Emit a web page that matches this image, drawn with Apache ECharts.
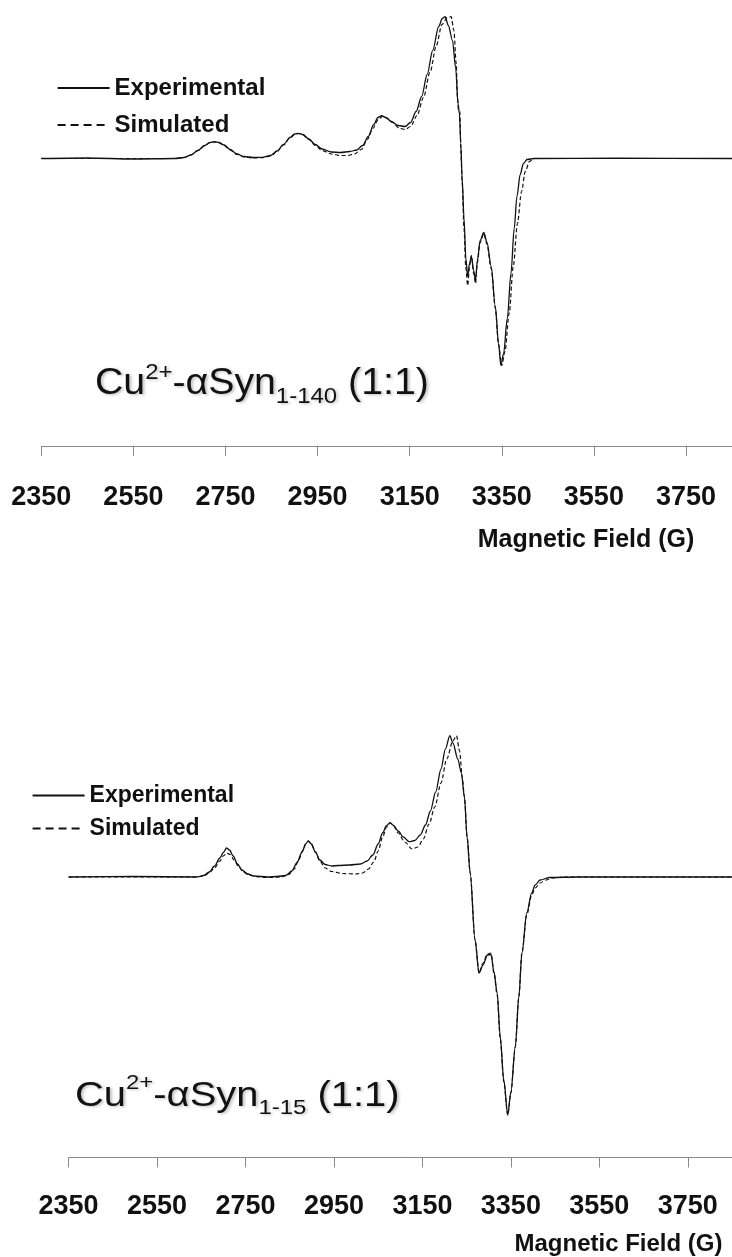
<!DOCTYPE html>
<html>
<head>
<meta charset="utf-8">
<script src="https://cdn.jsdelivr.net/npm/echarts@6/dist/echarts.min.js"></script>
<style>
html,body{margin:0;padding:0;background:#fff;}
#c{width:732px;height:1257px;}
</style>
</head>
<body>
<div id="c"></div>
<script>
// ---------- data (field in G, signal in arbitrary units) ----------
const fieldTicks = [2350, 2550, 2750, 2950, 3150, 3350, 3550, 3750];
const fieldMax = 3850;
const seriesNames = ['Experimental', 'Simulated'];
const axisTitle = 'Magnetic Field (G)';

const topExperimental = [
  [2350,0],[2450,0.5],[2550,-0.5],[2640,0],[2660,1],[2675,3.5],[2690,8],[2705,13],[2716,16],[2726,16.8],
  [2736,16],[2747,13.5],[2760,9],[2775,4.5],[2790,2],[2810,1],[2830,1.2],[2848,3],[2862,7.5],[2876,14],
  [2890,21],[2900,24.5],[2909,25.2],[2918,24],[2931,19.5],[2945,14],[2960,9.5],[2980,6.5],[3000,6],
  [3020,7],[3035,8.5],[3048,13],[3060,22],[3072,34],[3081,41],[3089,42.8],[3098,41],[3110,37],[3125,33],
  [3140,32],[3152,36],[3164,47],[3176,62],[3188,84],[3200,108],[3213,132],[3221,140],[3227,141.8],
  [3234,133],[3243,118],[3250,90],[3255,55],[3258,45],[3261,15],[3264,-20],[3268,-60],[3272,-100],
  [3276,-118],[3280,-105],[3284,-98],[3289,-112],[3293,-122],[3297,-102],[3303,-82],[3311,-74],
  [3318,-84],[3327,-108],[3336,-148],[3343,-185],[3348,-207],[3354,-195],[3362,-160],[3370,-115],
  [3377,-70],[3383,-38],[3390,-16],[3397,-5],[3405,-1],[3420,0],[3600,0.3],[3850,0]
];
const topSimulated = [
  [2350,0],[2640,0],[2660,1],[2675,3.5],[2690,8],[2705,13],[2716,15.8],[2726,16.5],[2736,15.6],
  [2747,13],[2760,8.5],[2775,4],[2790,1.5],[2810,0.5],[2830,0.8],[2848,2.5],[2862,7],[2876,13.5],
  [2890,20.5],[2900,24],[2909,25],[2918,23.5],[2931,19],[2945,13],[2960,8],[2980,4.5],[3000,3],
  [3015,3],[3030,4.5],[3045,9],[3058,19],[3070,30],[3082,39],[3092,42.5],[3102,40],[3113,36],
  [3127,30.5],[3140,29],[3152,32],[3166,43],[3180,61],[3194,86],[3208,113],[3220,134],[3232,141],
  [3240,141.8],[3246,128],[3251,95],[3254,60],[3256,48],[3259,47],[3261,10],[3264,-25],[3268,-70],
  [3272,-110],[3276,-127],[3280,-108],[3284,-97],[3289,-115],[3293,-125],[3297,-104],[3303,-84],
  [3311,-75],[3318,-86],[3327,-110],[3336,-150],[3343,-186],[3350,-207],[3357,-193],[3366,-155],
  [3375,-108],[3384,-65],[3393,-33],[3401,-13],[3410,-3],[3421,0],[3850,0]
];
const bottomExperimental = [
  [2350,0],[2500,0.5],[2640,0],[2655,1.5],[2668,5],[2680,11],[2692,19],[2700,24.5],[2707,29],
  [2714,27],[2722,21],[2732,13],[2742,7],[2755,3],[2770,1],[2800,0],[2821,0.5],[2841,1.5],[2855,6],
  [2866,14],[2878,25],[2886,33],[2892,36],[2899,33],[2908,25],[2918,17],[2930,12.5],[2945,11],
  [2960,11.5],[2985,12],[3010,13],[3025,16],[3038,22],[3050,33],[3060,44],[3069,51.5],[3077,54.3],
  [3085,51.5],[3095,46],[3107,40],[3120,35.3],[3133,36.5],[3145,42],[3157,52],[3168,66],[3180,85],
  [3192,108],[3202,128],[3212,141.3],[3219,134],[3230,118],[3238,104],[3245,80],[3251,40],[3258,4],
  [3269,-63],[3278,-96],[3287,-88],[3297,-78],[3305,-77.5],[3312,-95],[3319,-116],[3326,-160],
  [3334,-203],[3343,-238],[3350,-215],[3360,-170],[3368,-120],[3375,-76],[3386,-36],[3397,-16],
  [3405,-8],[3416,-3],[3438,-0.5],[3500,0],[3850,0]
];
const bottomSimulated = [
  [2350,0],[2640,0],[2655,1],[2668,4],[2680,9],[2692,16],[2701,21.5],[2708,24],[2715,22.5],[2724,17],
  [2735,10],[2745,5],[2758,2],[2775,0.3],[2800,-0.5],[2830,0],[2848,2.5],[2860,8],[2870,17],[2880,27],
  [2886,33],[2892,36],[2899,32.5],[2908,25],[2918,16],[2930,9],[2945,5.5],[2970,3.5],[2999,3],
  [3015,4],[3028,8],[3040,15],[3050,26],[3060,40],[3069,50],[3077,54],[3085,51],[3095,44],[3110,35],
  [3127,28],[3140,30],[3152,38],[3165,53],[3178,70],[3192,94],[3205,118],[3219,136],[3227,141.3],
  [3234,126],[3240,100],[3245,80],[3251,40],[3258,4],[3269,-63],[3278,-96],[3287,-86],[3297,-77],
  [3305,-76],[3312,-97],[3319,-118],[3326,-162],[3334,-205],[3343,-238],[3350,-216],[3360,-170],
  [3368,-120],[3375,-76],[3386,-38],[3397,-18],[3405,-11],[3416,-6],[3430,-3],[3445,-1],[3470,0],
  [3850,0]
];

// ---------- chart ----------
const FONT = '"Liberation Sans", Arial, sans-serif';
const chart = echarts.init(document.getElementById('c'), null, {renderer: 'canvas'});

function xAxisCfg(gridIndex, margin, fontSize) {
  return {
    type: 'value', gridIndex: gridIndex, position: 'bottom',
    min: fieldTicks[0], max: fieldMax, interval: fieldTicks[1] - fieldTicks[0],
    axisLine: {show: true, onZero: false, lineStyle: {color: '#8a8a8a', width: 1}},
    axisTick: {show: true, length: 10, lineStyle: {color: '#8a8a8a', width: 1}},
    splitLine: {show: false},
    axisLabel: {
      showMaxLabel: false, margin: margin, color: '#111', fontSize: fontSize,
      fontWeight: 'bold', fontFamily: FONT,
      formatter: function (v) { return String(v); }
    }
  };
}
function yAxisCfg(gridIndex, min, max) {
  return {type: 'value', gridIndex: gridIndex, min: min, max: max, show: false, splitLine: {show: false}};
}
function lineSeries(name, data, idx, dashed) {
  return {
    name: name, type: 'line', xAxisIndex: idx, yAxisIndex: idx, data: data,
    symbol: 'none', smooth: 0.3, smoothMonotone: 'x',
    lineStyle: {color: '#111', width: dashed ? 1.2 : 1.3, type: dashed ? [4, 2.5] : 'solid'},
    itemStyle: {color: '#111'}
  };
}
function legendCfg(left, top, gap, fontSize) {
  const hidden = {color: 'rgba(0,0,0,0)', borderWidth: 0, opacity: 0};
  return {
    orient: 'vertical', left: left, top: top, padding: 0, itemGap: gap,
    itemWidth: 52, itemHeight: 2, selectedMode: false,
    textStyle: {fontSize: fontSize, fontWeight: 'bold', color: '#111', fontFamily: FONT},
    data: [
      {name: seriesNames[0], itemStyle: hidden, lineStyle: {width: 1.8, type: 'solid', color: '#111', opacity: 1}},
      {name: seriesNames[1], itemStyle: hidden, lineStyle: {width: 1.8, type: [8, 5], color: '#111', opacity: 1}}
    ]
  };
}
function sampleLabel(x, y, sub, size, sx) {
  const s = Math.round(size * 0.61);
  return {
    type: 'text', x: x, y: y, scaleX: sx, silent: true,
    style: {
      text: '{m|Cu}{sup|2+}{m|-αSyn}{sub|' + sub + '}{m| (1:1)}',
      fill: '#111', align: 'left', verticalAlign: 'middle',
      textShadowColor: 'rgba(0,0,0,0.25)', textShadowBlur: 3, textShadowOffsetX: 2, textShadowOffsetY: 1,
      rich: {
        m: {fontSize: size, lineHeight: 46, fontFamily: FONT, fill: '#111', verticalAlign: 'middle'},
        sup: {fontSize: s, lineHeight: 42, fontFamily: FONT, fill: '#111', verticalAlign: 'top'},
        sub: {fontSize: s, lineHeight: 20, fontFamily: FONT, fill: '#111', verticalAlign: 'bottom'}
      }
    }
  };
}
function titleText(cx, cy, size) {
  return {
    type: 'text', x: cx, y: cy, silent: true,
    style: {text: axisTitle, fill: '#111', align: 'center', verticalAlign: 'middle',
      font: 'bold ' + size + 'px ' + FONT}
  };
}

chart.setOption({
  backgroundColor: '#ffffff',
  animation: false,
  grid: [
    {left: 41.3, right: -2.9, top: 8.5, height: 437.5, containLabel: false},
    {left: 68.6, right: -9.4, top: 727, height: 430.5, containLabel: false}
  ],
  xAxis: [xAxisCfg(0, 38, 27), xAxisCfg(1, 35.5, 27)],
  yAxis: [yAxisCfg(0, -287.5, 150), yAxisCfg(1, -280.5, 150)],
  legend: [legendCfg(56.7, 76, 13, 24), legendCfg(31.7, 784, 10, 23)],
  series: [
    lineSeries(seriesNames[0], topExperimental, 0, false),
    lineSeries(seriesNames[1], topSimulated, 0, true),
    lineSeries(seriesNames[0], bottomExperimental, 1, false),
    lineSeries(seriesNames[1], bottomSimulated, 1, true)
  ],
  graphic: [
    sampleLabel(95, 384.5, '1-140', 36, 1.09),
    sampleLabel(75, 1096, '1-15', 35, 1.14),
    titleText(586, 540, 25),
    titleText(618.5, 1244, 24)
  ]
});
</script>
</body>
</html>
